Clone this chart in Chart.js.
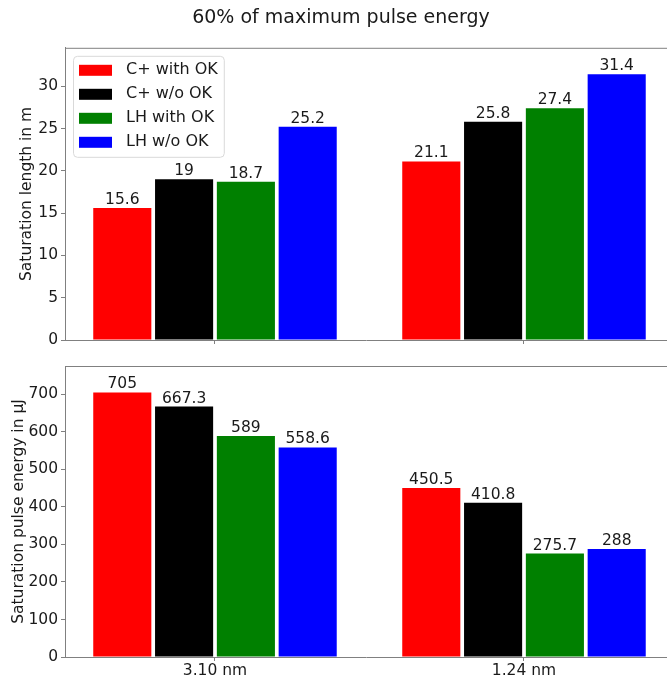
<!DOCTYPE html>
<html><head><meta charset="utf-8">
<script src="https://cdn.jsdelivr.net/npm/chart.js@4"></script>
<style>
html,body{margin:0;padding:0;background:#fff;overflow:hidden}
#top{position:absolute;left:0;top:0;width:667px;height:353px}
#bot{position:absolute;left:0;top:353px;width:667px;height:322px}
</style></head><body>
<div id="top"><canvas id="c1"></canvas></div>
<div id="bot"><canvas id="c2"></canvas></div>
<script>
const figureTitle = '60% of maximum pulse energy';
const categories = ['3.10 nm', '1.24 nm'];
const seriesLabels = ['C+ with OK', 'C+ w/o OK', 'LH with OK', 'LH w/o OK'];
const seriesColors = ['#ff0000', '#000000', '#008000', '#0000ff'];

const lengthCplusWithOK = [15.6, 21.1];
const lengthCplusWoOK   = [19, 25.8];
const lengthLHWithOK    = [18.7, 27.4];
const lengthLHWoOK      = [25.2, 31.4];

const energyCplusWithOK = [705, 450.5];
const energyCplusWoOK   = [667.3, 410.8];
const energyLHWithOK    = [589, 275.7];
const energyLHWoOK      = [558.6, 288];

const lengthTicks = [0, 5, 10, 15, 20, 25, 30];
const energyTicks = [0, 100, 200, 300, 400, 500, 600, 700];
const lengthAxisTitle = 'Saturation length in m';
const energyAxisTitle = 'Saturation pulse energy in μJ';

const FONT = '"DejaVu Sans", sans-serif';
const TXT = '#1a1a1a';
const SPINE = '#808080';
Chart.defaults.font.family = FONT;
Chart.defaults.color = TXT;

function makeDatasets(seriesList) {
  return seriesList.map((vals, s) => ({
    label: seriesLabels[s],
    data: vals.map((v, i) => ({x: i, y: v})),
    backgroundColor: seriesColors[s],
    borderWidth: 0,
    categoryPercentage: 0.8,
    barPercentage: 0.94
  }));
}

const decor = {
  id: 'decor',
  afterDatasetsDraw(chart, args, opts) {
    const ctx = chart.ctx, a = chart.chartArea;
    ctx.save();
    ctx.font = '15.5px ' + FONT;
    ctx.fillStyle = TXT;
    ctx.textAlign = 'center';
    ctx.textBaseline = 'alphabetic';
    chart.data.datasets.forEach((ds, di) => {
      chart.getDatasetMeta(di).data.forEach((el, i) => {
        ctx.fillText(String(ds.data[i].y), el.x, el.y - 4);
      });
    });
    ctx.strokeStyle = SPINE; ctx.lineWidth = 1;
    ctx.beginPath(); ctx.moveTo(a.left, a.top + 0.5); ctx.lineTo(a.right, a.top + 0.5); ctx.stroke();
    if (opts && opts.legend) {
      ctx.font = '16px ' + FONT;
      let tw = 0;
      chart.data.datasets.forEach(ds => { tw = Math.max(tw, ctx.measureText(ds.label).width); });
      const lx = a.left + 8, ly = a.top + 8, w = 53 + tw + 6, h = 101;
      ctx.beginPath();
      ctx.roundRect(lx + 0.5, ly + 0.5, w, h, 4);
      ctx.fillStyle = 'rgba(255,255,255,0.8)'; ctx.fill();
      ctx.strokeStyle = '#d9d9d9'; ctx.stroke();
      chart.data.datasets.forEach((ds, i) => {
        const cy = a.top + 22.5 + i * 24;
        ctx.fillStyle = ds.backgroundColor;
        ctx.fillRect(a.left + 14, cy - 5.5, 33, 11);
        ctx.fillStyle = TXT; ctx.textAlign = 'left'; ctx.textBaseline = 'middle';
        ctx.fillText(ds.label, a.left + 61, cy);
      });
    }
    ctx.restore();
  }
};

function xScale(showLabels, h) {
  return {
    type: 'linear', min: -0.4854, max: 1.4628, offset: false,
    afterBuildTicks: s => { s.ticks = categories.map((c, i) => ({value: i})); },
    ticks: {display: showLabels, maxRotation: 0, autoSkip: false, padding: 1, color: TXT,
            font: {size: 15.5}, callback: (v, idx) => categories[idx]},
    grid: {offset: false, drawOnChartArea: false, drawTicks: true, tickLength: 4, color: SPINE},
    border: {display: true, color: SPINE, width: 1},
    afterFit: s => { s.height = h; }
  };
}
function yScale(ticksArr, maxVal, title, titlePad, w) {
  return {
    type: 'linear', min: 0, max: maxVal,
    afterBuildTicks: s => { s.ticks = ticksArr.map(v => ({value: v})); },
    ticks: {padding: 3, color: TXT, font: {size: 15.5}, callback: v => String(v)},
    grid: {drawOnChartArea: false, drawTicks: true, tickLength: 4, color: SPINE},
    border: {display: true, color: SPINE, width: 1},
    title: {display: true, text: title, color: TXT, font: {size: 15.5}, padding: {top: titlePad, bottom: 0}},
    afterFit: s => { s.width = w; }
  };
}

const lengthSeries = [lengthCplusWithOK, lengthCplusWoOK, lengthLHWithOK, lengthLHWoOK];
const energySeries = [energyCplusWithOK, energyCplusWoOK, energyLHWithOK, energyLHWoOK];
const lengthMax = 1.1 * Math.max(...lengthSeries.flat());
const energyMax = 1.1 * Math.max(...energySeries.flat());

new Chart(document.getElementById('c1'), {
  type: 'bar',
  data: {datasets: makeDatasets(lengthSeries)},
  options: {
    responsive: true, maintainAspectRatio: false, animation: false, events: [],
    layout: {padding: {left: 15, right: 0, top: 0, bottom: 0}},
    plugins: {
      legend: {display: false}, tooltip: {enabled: false},
      title: {display: true, text: figureTitle, color: TXT, font: {size: 19, weight: 'normal'}, padding: {top: 7, bottom: 18}},
      decor: {legend: true}
    },
    scales: {
      x: xScale(false, 13),
      y: yScale(lengthTicks, lengthMax, lengthAxisTitle, 3, 50)
    }
  },
  plugins: [decor]
});

new Chart(document.getElementById('c2'), {
  type: 'bar',
  data: {datasets: makeDatasets(energySeries)},
  options: {
    responsive: true, maintainAspectRatio: false, animation: false, events: [],
    layout: {padding: {left: 0, right: 0, top: 13, bottom: 0}},
    plugins: {
      legend: {display: false}, tooltip: {enabled: false},
      decor: {legend: false}
    },
    scales: {
      x: xScale(true, 18),
      y: yScale(energyTicks, energyMax, energyAxisTitle, 10, 65)
    }
  },
  plugins: [decor]
});
</script>
</body></html>
